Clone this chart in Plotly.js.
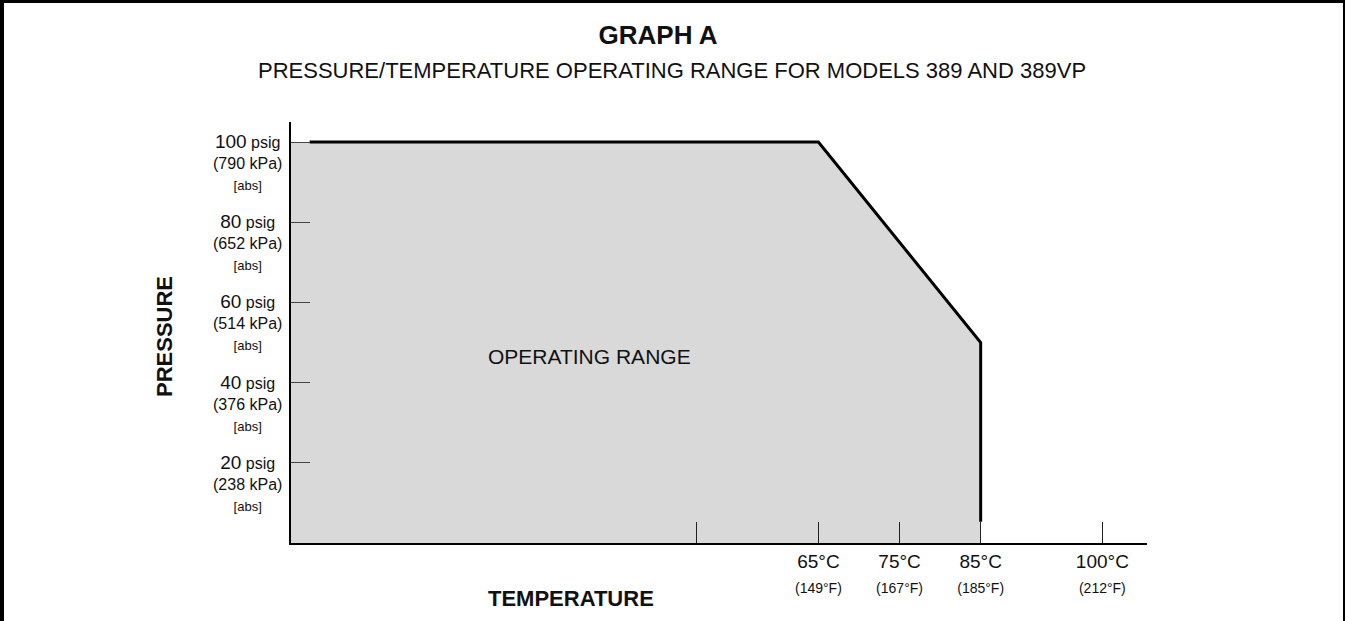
<!DOCTYPE html>
<html>
<head>
<meta charset="utf-8">
<script src="https://cdn.plot.ly/plotly-3.0.1.min.js"></script>
<style>
  html, body { margin: 0; padding: 0; background: #fff; }
  #wrap { position: relative; width: 1345px; height: 621px; overflow: hidden; }
  #chart { position: absolute; left: 0; top: 0; width: 1345px; height: 621px; }
  #frame { position: absolute; left: 0; top: 0; width: 1345px; height: 630px; box-sizing: border-box;
           border-left: 4px solid #000; border-top: 3px solid #000; border-right: 2px solid #000; pointer-events: none; }
</style>
</head>
<body>
<div id="wrap"><div id="chart"></div><div id="frame"></div></div>
<script>
// ---- data ----
const tempTicksC   = [50, 65, 75, 85, 100];
const tempLabelsC  = ['', '65°C', '75°C', '85°C', '100°C'];
const tempLabelsF  = ['', '(149°F)', '(167°F)', '(185°F)', '(212°F)'];

const pressTicksPsig = [20, 40, 60, 80, 100];
const pressLabelsKPa = ['(238 kPa)', '(376 kPa)', '(514 kPa)', '(652 kPa)', '(790 kPa)'];

// operating range envelope (°C, psig)
const areaTemp  = [0, 0, 65, 85, 85];
const areaPsig  = [0, 100, 100, 50, 0];
const edgeTemp  = [2.3, 65, 85, 85];
const edgePsig  = [100, 100, 50, 5.3];

const regionLabel = {text: 'OPERATING RANGE', temp: 36.8, psig: 46.5};

const FONT = '"Liberation Sans", Arial, Helvetica, sans-serif';
const INK = '#111';

const traces = [
  {
    x: areaTemp, y: areaPsig, type: 'scatter', mode: 'lines',
    fill: 'toself', fillcolor: '#d9d9d9', line: {width: 0, color: 'rgba(0,0,0,0)'},
    hoverinfo: 'skip', showlegend: false
  },
  {
    x: edgeTemp, y: edgePsig, type: 'scatter', mode: 'lines',
    line: {width: 3, color: '#000'}, hoverinfo: 'skip', showlegend: false
  }
];

const annotations = [];
pressTicksPsig.forEach((v, i) => {
  annotations.push({
    x: 0, xref: 'paper', xanchor: 'right', xshift: -7,
    y: v, yref: 'y', yanchor: 'top', yshift: 13,
    showarrow: false, align: 'center',
    font: {family: FONT, size: 16, color: INK},
    text: '<span style="font-size:19px">' + v + '</span> psig<br>' + pressLabelsKPa[i] +
          '<br><span style="font-size:13px">[abs]</span>'
  });
});
annotations.push({
  x: regionLabel.temp, y: regionLabel.psig, xref: 'x', yref: 'y', showarrow: false,
  text: regionLabel.text, font: {family: FONT, size: 21, color: INK}
});
annotations.push({
  x: (672 - 291) / 856, y: (543 - 70) / 421, xref: 'paper', yref: 'paper', showarrow: false,
  xanchor: 'center', yanchor: 'middle',
  text: 'PRESSURE/TEMPERATURE OPERATING RANGE FOR MODELS 389 AND 389VP',
  font: {family: FONT, size: 22, color: INK}
});
annotations.push({
  x: (164 - 291) / 856, y: (543 - 337) / 421, xref: 'paper', yref: 'paper', showarrow: false,
  textangle: -90, xanchor: 'center', yanchor: 'middle',
  text: '<b>PRESSURE</b>', font: {family: FONT, size: 22, color: INK}
});
annotations.push({
  x: (571 - 291) / 856, y: (543 - 598) / 421, xref: 'paper', yref: 'paper', showarrow: false,
  xanchor: 'center', yanchor: 'middle',
  text: '<b>TEMPERATURE</b>', font: {family: FONT, size: 22, color: INK}
});

const layout = {
  width: 1345, height: 621,
  margin: {l: 291, r: 198, t: 122, b: 78, pad: 0},
  paper_bgcolor: '#fff', plot_bgcolor: '#fff',
  showlegend: false,
  title: {
    text: '<b>GRAPH A</b>', xref: 'container', yref: 'container',
    x: 658 / 1345, xanchor: 'center', y: 1 - 35 / 621, yanchor: 'middle',
    font: {family: FONT, size: 26, color: INK}
  },
  xaxis: {
    range: [0, 105.5], showgrid: false, zeroline: false,
    showline: true, linecolor: '#000', linewidth: 2,
    ticks: 'inside', ticklen: 21, tickwidth: 1, tickcolor: '#222',
    tickmode: 'array', tickvals: tempTicksC,
    ticktext: tempLabelsC.map((c, i) => c ? c + '<br><span style="font-size:14px">' + tempLabelsF[i] + '</span>' : ''),
    tickfont: {family: FONT, size: 19, color: INK},
    fixedrange: true
  },
  yaxis: {
    range: [0, 105], showgrid: false, zeroline: false,
    showline: true, linecolor: '#000', linewidth: 2,
    ticks: 'inside', ticklen: 19, tickwidth: 1, tickcolor: '#444',
    tickmode: 'array', tickvals: pressTicksPsig, showticklabels: false,
    fixedrange: true
  },
  annotations: annotations
};

Plotly.newPlot('chart', traces, layout, {staticPlot: true, displayModeBar: false});
</script>
</body>
</html>
